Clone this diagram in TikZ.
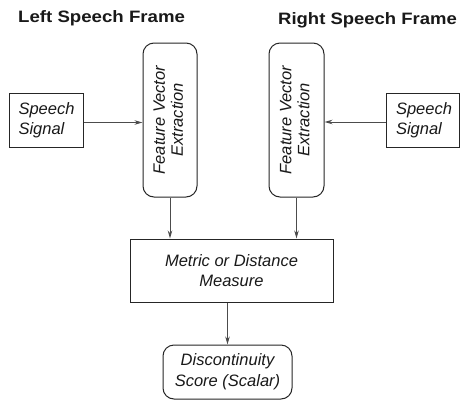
\documentclass[tikz,border=0pt]{standalone}
\usepackage{fontspec}
\setmainfont{Liberation Sans}
\usetikzlibrary{arrows.meta}
\begin{document}
\begin{tikzpicture}[x=1pt,y=-1pt,
  txt/.style={font=\fontsize{16.5}{19.5}\selectfont\itshape, text=black!90},
  box/.style={draw=black!85, line width=1pt, inner sep=0pt, txt},
  rbox/.style={box, rounded corners=11pt},
  conn/.style={draw=black!70, line width=0.9pt, -{Stealth[length=8pt,width=4.5pt]}},
  title/.style={font=\fontsize{16.5}{19.5}\selectfont\bfseries, text=black!90, inner sep=0pt}]
\useasboundingbox (0,0) rectangle (461,400);
\fill[white] (0,0) rectangle (461,400);
% titles
\node[title, anchor=base west] (tl) at (18,22) {\scalebox{1.13}[1]{Left Speech Frame}};
\node[title, anchor=base west] (tr) at (278,24) {\scalebox{1.12}[1]{Right Speech Frame}};
% speech signals
\node[box, minimum width=74pt, minimum height=54pt, align=left, text width=55pt] (sl) at (46,120) {Speech\\Signal};
\node[box, minimum width=73pt, minimum height=54pt, align=left, text width=53pt] (sr) at (422.5,120) {Speech\\Signal};
% feature vector extraction
\node[rbox, minimum width=54pt, minimum height=154pt] (fl) at (170,120)
  {\rotatebox{90}{\begin{tabular}{@{}c@{}}Feature Vector\\[-1.5pt]Extraction\end{tabular}}};
\node[rbox, minimum width=55pt, minimum height=154pt] (fr) at (296.5,120)
  {\rotatebox{90}{\begin{tabular}{@{}c@{}}Feature Vector\\[-1.5pt]Extraction\end{tabular}}};
% metric
\node[box, minimum width=203pt, minimum height=63pt, align=center] (m) at (231.5,270.5) {Metric or Distance\\Measure};
% discontinuity
\node[rbox, minimum width=129pt, minimum height=54pt, align=center] (d) at (227.5,372) {Discontinuity\\[1.5pt]Score (Scalar)};
% connectors
\draw[conn] ([yshift=-2.5pt]sl.east) -- ([yshift=-2.5pt]fl.west);
\draw[conn] ([yshift=-2pt]sr.west) -- ([yshift=-2pt]fr.east);
\draw[conn] (fl.south) -- (fl.south |- m.north);
\draw[conn] (fr.south) -- (fr.south |- m.north);
\draw[conn] (d.north |- m.south) -- (d.north);
\end{tikzpicture}
\end{document}
